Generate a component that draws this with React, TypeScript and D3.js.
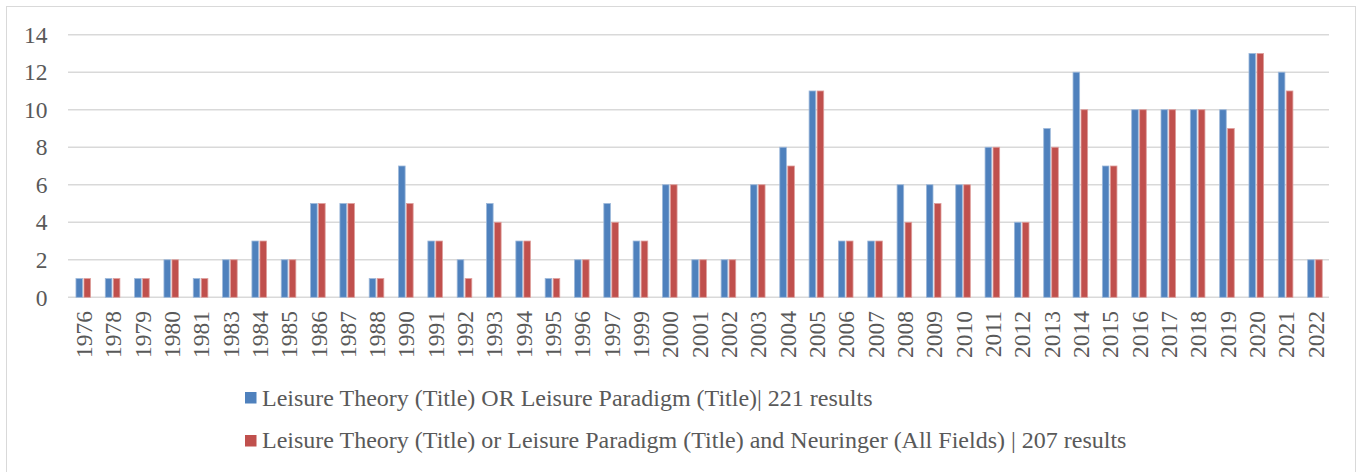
import React from "react";
import * as d3 from "d3";

const years = ["1976","1978","1979","1980","1981","1983","1984","1985","1986","1987","1988","1990","1991","1992","1993","1994","1995","1996","1997","1999","2000","2001","2002","2003","2004","2005","2006","2007","2008","2009","2010","2011","2012","2013","2014","2015","2016","2017","2018","2019","2020","2021","2022"];
const seriesA = [1,1,1,2,1,2,3,2,5,5,1,7,3,2,5,3,1,2,5,3,6,2,2,6,8,11,3,3,6,6,6,8,4,9,12,7,10,10,10,10,13,12,2];
const seriesB = [1,1,1,2,1,2,3,2,5,5,1,5,3,1,4,3,1,2,4,3,6,2,2,6,7,11,3,3,4,5,6,8,4,8,10,7,10,10,10,9,13,11,2];
const seriesNames = [
  "Leisure Theory (Title) OR Leisure Paradigm (Title)| 221 results",
  "Leisure Theory (Title) or Leisure Paradigm (Title) and Neuringer (All Fields) | 207 results",
];
const yTicks = [0, 2, 4, 6, 8, 10, 12, 14];
const colors = ["#4F81BD", "#C0504D"];
const strokes = ["#9DB8DA", "#DE9E9C"];

const W = 1360, H = 472;
const FONT = "Liberation Serif, serif";
const TXT = "#595959";

export default function App() {
  const x = d3.scaleBand<string>().domain(years).range([68, 1329]).padding(0);
  const y = d3.scaleLinear().domain([0, 14]).range([297.3, 34.7]);
  const bw = x.bandwidth();
  const barW = 6.6;
  const gap = 1.4;
  const groupW = barW * 2 + gap;
  const off = (bw - groupW) / 2 + 0.6;
  const data = [seriesA, seriesB];
  const ts = { fontFamily: FONT };
  return (
    <svg width={W} height={H} style={{ position: "absolute", left: 0, top: 0, background: "#fff", fontFamily: FONT }}>
      <rect x={6.5} y={6.5} width={1349} height={470} fill="#fff" stroke="#d9d9d9" strokeWidth={1} />
      {yTicks.map((t) => (
        <g key={t}>
          <line x1={68} x2={1329} y1={y(t)} y2={y(t)} stroke="#d9d9d9" strokeWidth={1.5} />
          <text x={47.5} y={y(t)} dy="0.35em" textAnchor="end" fontSize={23.5} fill={TXT} style={ts}>{t}</text>
        </g>
      ))}
      {data.map((s, si) => (
        <g key={si}>
          {s.map((v, i) => (
            <rect
              key={i}
              x={(x(years[i]) as number) + off + (si === 0 ? 0 : barW + gap)}
              y={y(v)}
              width={barW}
              height={y(0) - y(v)}
              fill={colors[si]}
              stroke={strokes[si]}
              strokeWidth={0.8}
            />
          ))}
        </g>
      ))}
      {years.map((yr) => {
        const cx = (x(yr) as number) + bw / 2 + 1;
        return (
          <text key={yr} transform={`translate(${cx},311) rotate(-90)`} textAnchor="end" dy="0.35em" fontSize={23.5} fill={TXT} style={ts}>{yr}</text>
        );
      })}
      {seriesNames.map((n, i) => (
        <g key={n}>
          <rect x={245} y={392 + i * 43} width={11.5} height={11.5} fill={colors[i]} />
          <text x={262} y={406 + i * 42} fontSize={24} fill={TXT} style={ts}>{n}</text>
        </g>
      ))}
    </svg>
  );
}
